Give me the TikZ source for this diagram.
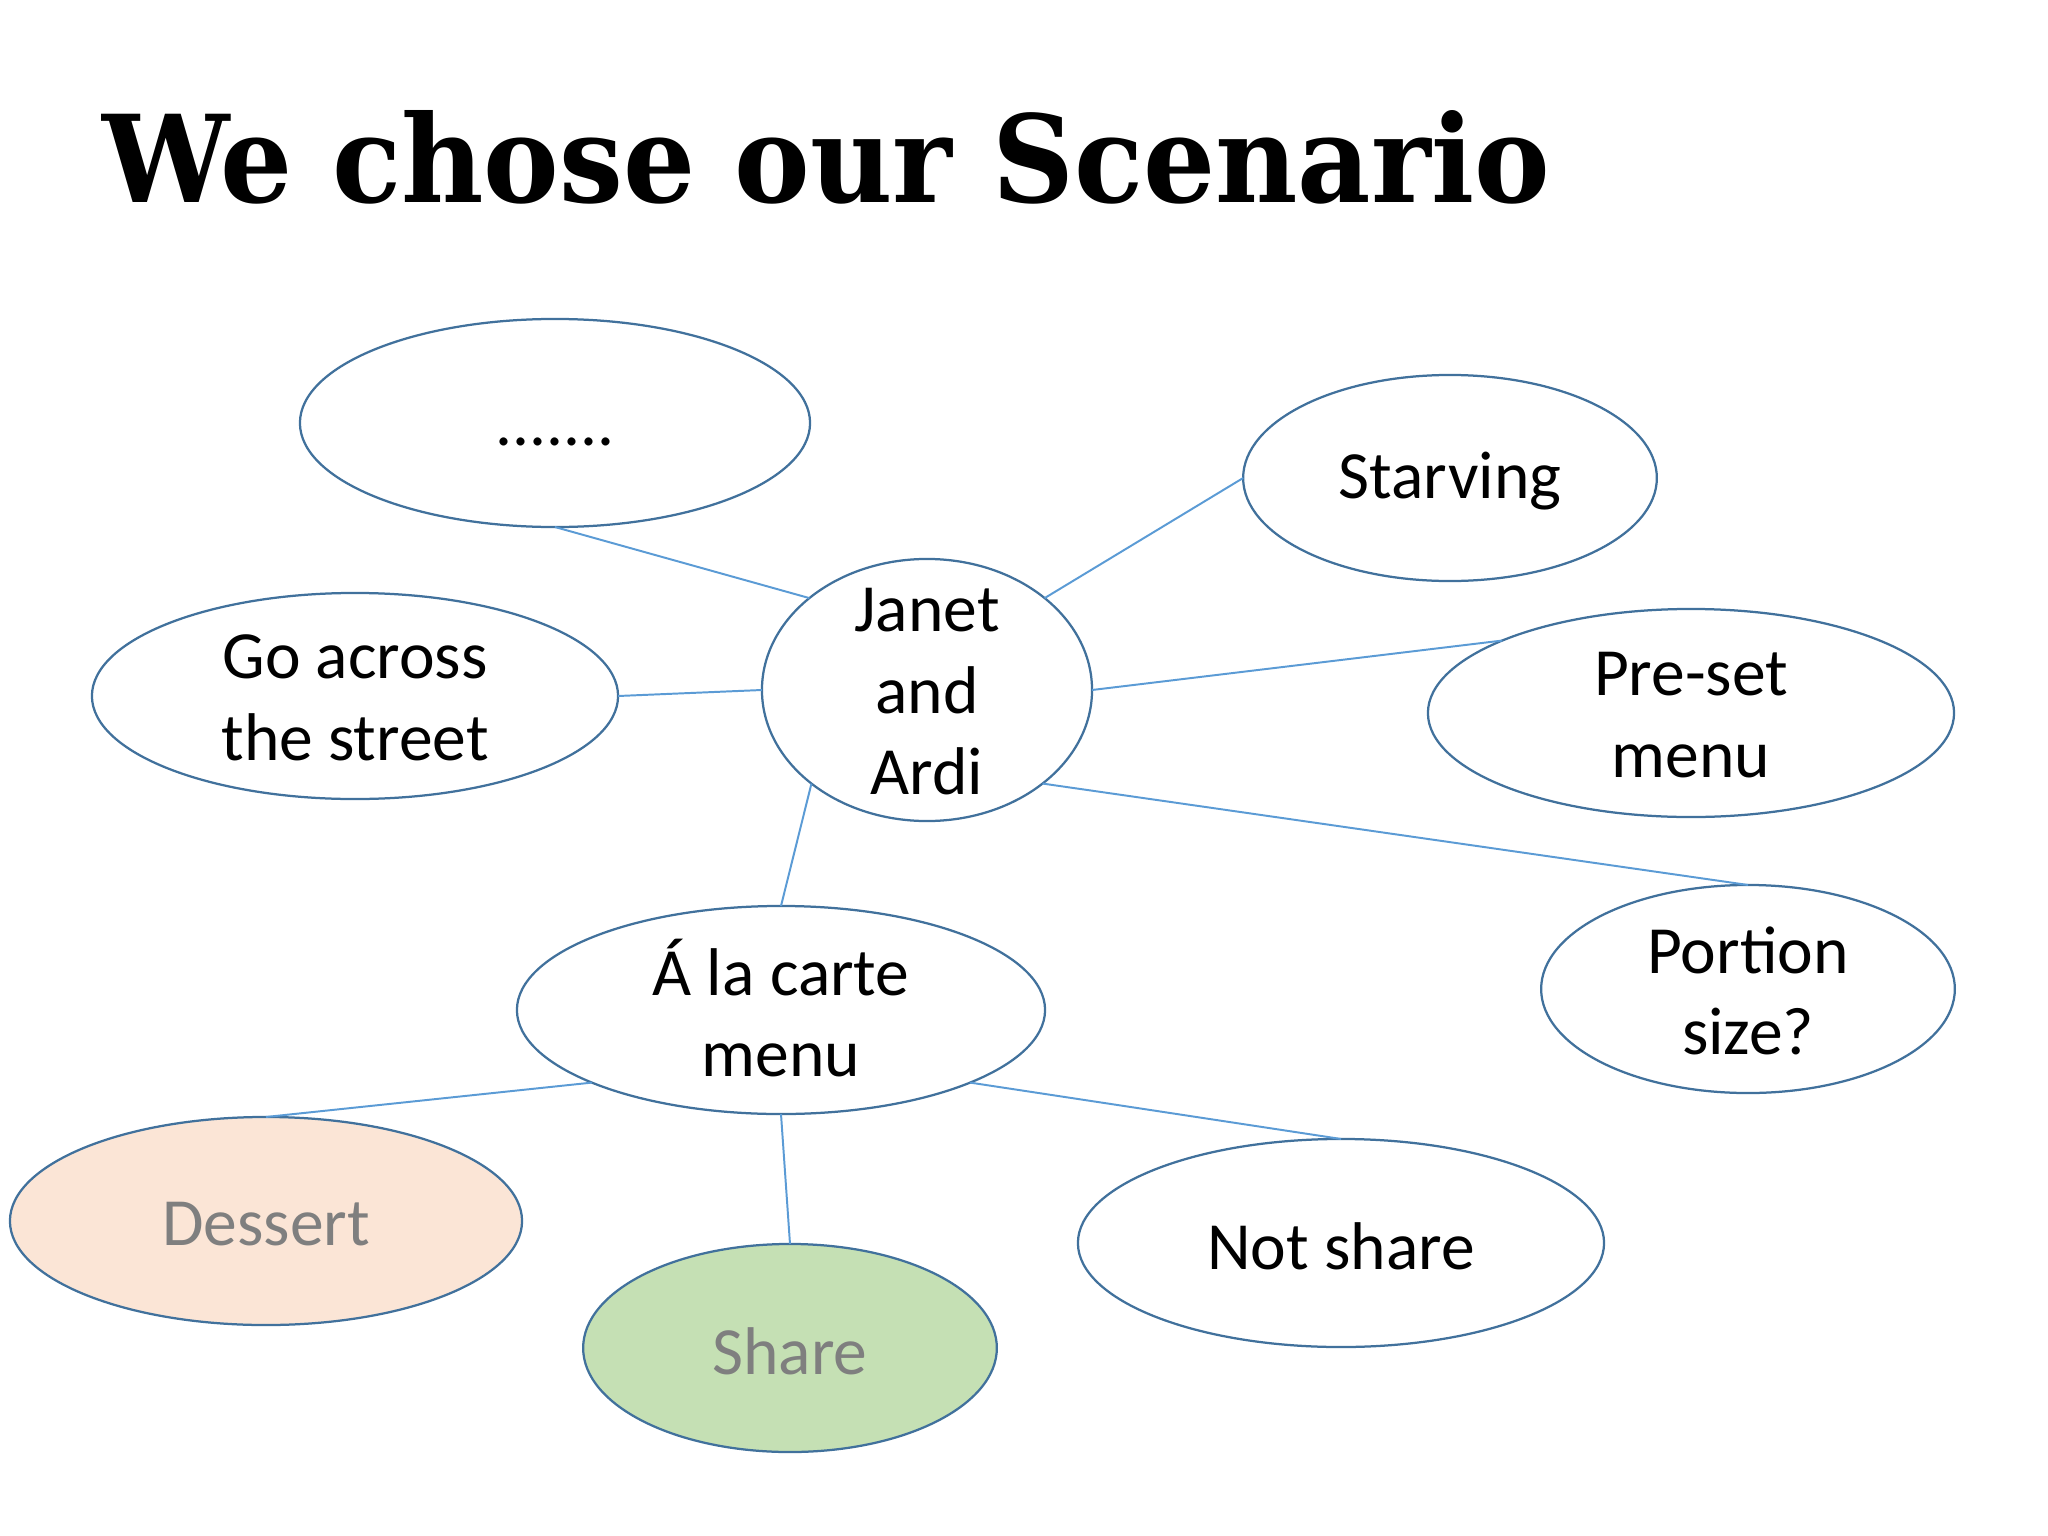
\documentclass[tikz,border=0pt]{standalone}
\usepackage{fontspec}
\usepackage{graphicx}
\setmainfont{Carlito}
\newfontfamily\titlefont{DejaVu Serif}
\usetikzlibrary{shapes.geometric}
\definecolor{rim}{HTML}{41719C}
\definecolor{wire}{HTML}{5B9BD5}
\definecolor{peach}{HTML}{FBE5D6}
\definecolor{mint}{HTML}{C5E0B4}
\definecolor{greytext}{HTML}{7F7F7F}
\begin{document}
\begin{tikzpicture}[x = 0.0125cm, y = -0.0125cm,
    bubble/.style = {ellipse, draw = rim, line width = 0.8pt, fill = white, minimum height = 2.6cm, inner sep = 0pt, outer sep = 0pt},
    wide/.style = {minimum width = 6.575cm},
    narrow/.style = {minimum width = 5.17cm},
    words/.style = {align = center, font = \fontsize{24}{29}\selectfont},
    link/.style = {draw = wire, line width = 0.7pt}]
    \useasboundingbox (0,0) rectangle (2048,1536);
    \node [anchor = base west, inner sep = 0pt] (title) at (102,202)
        {\resizebox{18.08cm}{1.15cm}{\titlefont\bfseries We chose our Scenario}};
    % the bubbles
    \node [bubble, minimum width = 6.375cm] (dots) at (555,423) {};
    \node [bubble, narrow, minimum height = 2.575cm] (starving) at (1450,478) {};
    \node [bubble, minimum width = 4.125cm, minimum height = 3.275cm] (ja) at (927,690) {};
    \node [bubble, wide, minimum height = 2.575cm] (across) at (355,696) {};
    \node [bubble, wide] (preset) at (1691,713) {};
    \node [bubble, narrow] (portion) at (1748,989) {};
    \node [bubble, minimum width = 6.6cm] (carte) at (781,1010) {};
    \node [bubble, minimum width = 6.4cm, fill = peach] (dessert) at (266,1221) {};
    \node [bubble, narrow, fill = mint] (share) at (790,1348) {};
    \node [bubble, wide] (notshare) at (1341,1243) {};
    % the texts
    \node [words] (dots-t) at (555,442) {.......};
    \node [words] (starving-t) at (1450,481) {Starving};
    \node [words] (ja-t) at (927,692) {Janet\\and\\Ardi};
    \node [words] (across-t) at (355,698) {Go across\\the street};
    \node [words] (preset-t) at (1691,715) {Pre-set\\menu};
    \node [words] (portion-t) at (1748,991) {Portion\\size?};
    \node [words] (carte-t) at (781,1008) {Á la carte\\menu};
    \node [words, text = greytext] (dessert-t) at (266,1224) {Dessert};
    \node [words, text = greytext] (share-t) at (790,1351) {Share};
    \node [words] (notshare-t) at (1341,1246) {Not share};
    % the links
    \draw [link] (dots.south) -- (ja.142);
    \draw [link] (ja.38) -- (starving.west);
    \draw [link] (ja.east) -- (preset.159);
    \draw [link] (ja.-39) -- (portion.north);
    \draw [link] (ja.west) -- (across.east);
    \draw [link] (ja.-141) -- (carte.north);
    \draw [link] (carte.201) -- (dessert.north);
    \draw [link] (carte.south) -- (share.north);
    \draw [link] (carte.-21) -- (notshare.north);
\end{tikzpicture}
\end{document}
